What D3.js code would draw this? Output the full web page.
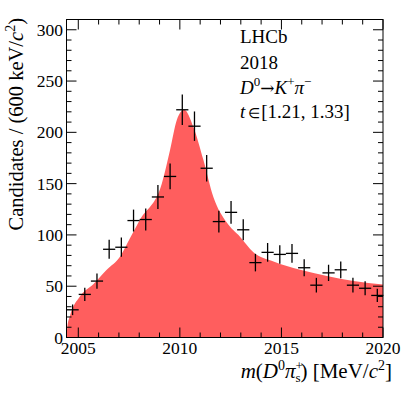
<!DOCTYPE html>
<html>
<head>
<meta charset="utf-8">
<script src="https://cdn.jsdelivr.net/npm/d3@7"></script>
<style>
  body { margin: 0; background: #fff; }
  svg text { font-family: "Liberation Serif", "Times New Roman", serif; fill: #000; }
</style>
</head>
<body>
<svg id="chart" width="403" height="393"></svg>
<script>
// ---------------------------------------------------------------------
// Data: 26 bins of 0.6 MeV from 2004.42 to 2020
// ---------------------------------------------------------------------
const binCenters = [2004.72, 2005.32, 2005.92, 2006.52, 2007.12, 2007.72, 2008.32,
                    2008.92, 2009.52, 2010.12, 2010.72, 2011.32, 2011.92, 2012.52,
                    2013.12, 2013.72, 2014.32, 2014.92, 2015.52, 2016.12, 2016.72,
                    2017.32, 2017.92, 2018.52, 2019.12, 2019.72];
const counts     = [27, 42, 55, 86, 88, 114, 115, 137, 157, 222, 206, 165, 113, 122,
                    105, 73, 83, 81, 82, 68, 51, 63, 66, 51, 48, 41];

// fit curve (red filled area) read at a few masses
const fitMass  = [2004.42, 2004.46, 2004.59, 2005.08, 2005.74, 2006.40, 2007.06, 2007.55,
                  2008.04, 2009.11, 2009.52, 2009.85, 2010.21, 2010.67, 2011.16, 2011.65,
                  2012.31, 2012.97, 2013.62, 2014.61, 2015.92, 2017.24, 2018.55, 2020.0];
const fitValue = [0, 10, 21, 40, 52, 66, 79, 97, 115, 150, 183, 212, 222, 205, 173, 137,
                  112, 98, 83, 74, 66, 60, 55, 51.6];

const xTicks = [2005, 2010, 2015, 2020];
const yTicks = [0, 50, 100, 150, 200, 250, 300];

const binWidth = 0.6;

// ---------------------------------------------------------------------
let svg    = d3.select("#chart"),
    margin = {left: 66.5, right: 20, top: 19.5, bottom: 55.5},
    W      = 403, H = 393,
    x      = d3.scaleLinear().domain([2004.42, 2020]).range([margin.left, W - margin.right]),
    y      = d3.scaleLinear().domain([0, 310]).range([H - margin.bottom, margin.top]);

// fit area
let area = d3.area()
  .x((d, i) => x(fitMass[i]))
  .y0(y(0))
  .y1((d, i) => y(fitValue[i]))
  .curve(d3.curveMonotoneX);

svg.append("path")
  .datum(fitMass)
  .attr("d", area)
  .attr("fill", "#ff5e5e");

// data points with error bars
let pts = svg.append("g").attr("stroke", "#000").attr("stroke-width", 1.3);
binCenters.forEach((m, i) => {
  let n = counts[i], e = Math.sqrt(n);
  pts.append("line")
    .attr("x1", x(m - binWidth / 2)).attr("x2", x(m + binWidth / 2))
    .attr("y1", y(n)).attr("y2", y(n));
  pts.append("line")
    .attr("x1", x(m)).attr("x2", x(m))
    .attr("y1", y(n - e)).attr("y2", y(n + e));
});

// frame + inside ticks on all four sides
let x0 = x.range()[0], x1 = x.range()[1], y0 = y.range()[0], y1 = y.range()[1];
let frame = svg.append("g").attr("stroke", "#000").attr("stroke-width", 1);
frame.append("rect")
  .attr("x", x0).attr("y", y1).attr("width", x1 - x0).attr("height", y0 - y1)
  .attr("fill", "none");

d3.range(2005, 2021, 1).forEach(v => {
  let len = (v % 5 === 0) ? 10 : 5;
  frame.append("line").attr("x1", x(v)).attr("x2", x(v)).attr("y1", y0).attr("y2", y0 - len);
  frame.append("line").attr("x1", x(v)).attr("x2", x(v)).attr("y1", y1).attr("y2", y1 + len);
});
d3.range(0, 311, 10).forEach(v => {
  let len = (v % 50 === 0) ? 10 : 5;
  frame.append("line").attr("x1", x0).attr("x2", x0 + len).attr("y1", y(v)).attr("y2", y(v));
  frame.append("line").attr("x1", x1).attr("x2", x1 - len).attr("y1", y(v)).attr("y2", y(v));
});

// tick labels
svg.append("g").selectAll("text").data(xTicks).join("text")
  .attr("x", d => x(d)).attr("y", 354)
  .attr("text-anchor", "middle").attr("font-size", 17.5)
  .text(d => d);

svg.append("g").selectAll("text").data(yTicks).join("text")
  .attr("x", 63).attr("y", d => y(d) + 6)
  .attr("text-anchor", "end").attr("font-size", 17.5)
  .text(d => d);

// axis titles
let yt = svg.append("text")
  .attr("transform", "translate(23,18) rotate(-90)")
  .attr("text-anchor", "end").attr("font-size", 20.5);
yt.append("tspan").text("Candidates / (600 keV/");
yt.append("tspan").attr("font-style", "italic").text("c");
yt.append("tspan").attr("font-size", 14).attr("dy", -8).text("2");
yt.append("tspan").attr("dy", 8).text(")");

let xt = svg.append("text")
  .attr("x", 392).attr("y", 378)
  .attr("text-anchor", "end").attr("font-size", 21);
xt.append("tspan").attr("font-style", "italic").text("m");
xt.append("tspan").text("(");
xt.append("tspan").attr("font-style", "italic").text("D");
xt.append("tspan").attr("font-size", 14).attr("dy", -8).text("0");
xt.append("tspan").attr("font-style", "italic").attr("dy", 8).text("π");
xt.append("tspan").attr("font-size", 13).attr("dy", -8).text("+");
xt.append("tspan").attr("font-size", 13).attr("dx", -7.5).attr("dy", 12).text("s");
xt.append("tspan").attr("dy", -4).text(") [MeV/");
xt.append("tspan").attr("font-style", "italic").text("c");
xt.append("tspan").attr("font-size", 14).attr("dy", -8).text("2");
xt.append("tspan").attr("dy", 8).text("]");

// annotation
let ann = svg.append("g").attr("font-size", 19);
ann.append("text").attr("x", 240).attr("y", 43).text("LHCb");
ann.append("text").attr("x", 240).attr("y", 69).text("2018");
let dk = ann.append("text").attr("x", 240).attr("y", 94);
dk.append("tspan").attr("font-style", "italic").text("D");
dk.append("tspan").attr("font-size", 13).attr("dy", -8).text("0");
dk.append("tspan").attr("dy", 8).attr("font-family", "DejaVu Serif").attr("font-size", 17).text("→");
dk.append("tspan").attr("font-style", "italic").text("K");
dk.append("tspan").attr("font-size", 13).attr("dy", -8).text("+");
dk.append("tspan").attr("font-style", "italic").attr("dy", 8).text("π");
dk.append("tspan").attr("font-size", 13).attr("dy", -8).text("−");
let tt = ann.append("text").attr("x", 240).attr("y", 118);
tt.append("tspan").attr("font-style", "italic").text("t");
tt.append("tspan").attr("font-size", 14).attr("dx", 3).text("∈");
tt.append("tspan").attr("dx", 1).text("[1.21, 1.33]");
</script>
</body>
</html>
